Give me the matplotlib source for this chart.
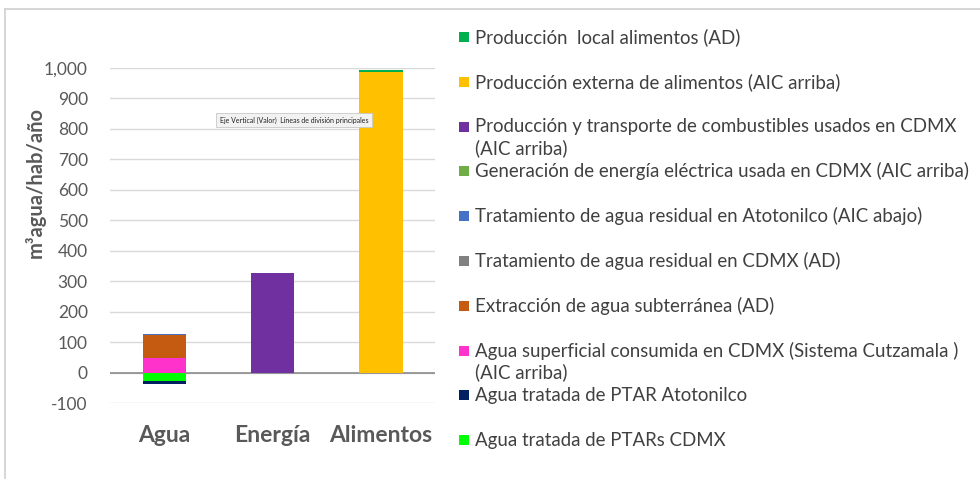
import numpy as np
import matplotlib
matplotlib.use('Agg')
import matplotlib.pyplot as plt
from matplotlib.lines import Line2D
from matplotlib.patches import Rectangle

plt.rcParams['font.family'] = ['Lato', 'DejaVu Sans']

categories = ['Agua', 'Energía', 'Alimentos']

# series in stacking order (bottom to top); legend shows them reversed
series_names = [
    'Agua tratada de PTARs CDMX',
    'Agua tratada de PTAR Atotonilco',
    'Agua superficial consumida en CDMX (Sistema Cutzamala )\n(AIC arriba)',
    'Extracción de agua subterránea (AD)',
    'Tratamiento de agua residual en CDMX (AD)',
    'Tratamiento de agua residual en Atotonilco (AIC abajo)',
    'Generación de energía eléctrica usada en CDMX (AIC arriba)',
    'Producción y transporte de combustibles usados en CDMX\n(AIC arriba)',
    'Producción externa de alimentos (AIC arriba)',
    'Producción  local alimentos (AD)',
]
ptars_cdmx = [-29, 0, 0]
ptar_atotonilco = [-10, 0, 0]
agua_superficial = [47, 0, 0]
extraccion = [75, 0, 0]
trat_cdmx = [0, 0, 0]
trat_atotonilco = [4, 0, 0]
generacion = [0, 0, 0]
combustibles = [0, 327, 0]
alim_externa = [0, 0, 988]
alim_local = [0, 0, 5]

series_vals = [ptars_cdmx, ptar_atotonilco, agua_superficial, extraccion, trat_cdmx,
               trat_atotonilco, generacion, combustibles, alim_externa, alim_local]
colors = ['#00FF00', '#002060', '#FF33CC', '#C55A11', '#808080',
          '#4472C4', '#70AD47', '#7030A0', '#FFC000', '#00B050']

fig = plt.figure(figsize=(9.8, 4.79), dpi=100)
W, H = 980, 479
ax = fig.add_axes([110 / W, (H - 403) / H, (435 - 110) / W, (403 - 68) / H])

x = np.arange(len(categories))
pos_bottom = np.zeros(len(categories))
neg_bottom = np.zeros(len(categories))
for vals, c in zip(series_vals, colors):
    v = np.array(vals, dtype=float)
    b = np.where(v >= 0, pos_bottom, neg_bottom)
    ax.bar(x, v, 0.4, bottom=b, color=c, zorder=3)
    pos_bottom += np.where(v > 0, v, 0)
    neg_bottom += np.where(v < 0, v, 0)

ax.set_xlim(-0.5, 2.5)
ax.set_ylim(-100, 1000)
ax.set_yticks(np.arange(-100, 1001, 100))
ax.set_yticklabels([f'{t:,}' for t in range(-100, 1001, 100)])
ax.grid(axis='y', color='#d9d9d9', lw=1, zorder=0)
ax.axhline(0, color='#8c8c8c', lw=1.2, zorder=2)
for s in ax.spines.values():
    s.set_visible(False)
ax.tick_params(axis='y', length=0, pad=16, labelsize=12.5, labelcolor='#595959')
ax.set_xticks(x)
ax.set_xticklabels(categories, fontsize=16.5, fontweight='bold', color='#595959')
ax.tick_params(axis='x', length=0, pad=16)

fig.text(35 / W, 1 - 183 / H, 'm³agua/hab/año', rotation=90, ha='center', va='center',
         fontsize=14.5, fontweight='bold', color='#595959')

# tooltip box
fig.text(294 / W, 1 - 120 / H, 'Eje Vertical (Valor)  Líneas de división principales',
         ha='center', va='center', fontsize=5, color='#222222',
         bbox=dict(boxstyle='square,pad=0.5', facecolor='#f2f2f2', edgecolor='#c8c8c8', lw=0.6))

# legend (drawn top to bottom)
y0, step = 37, 44.8
for i, (name, c) in enumerate(zip(series_names[::-1], colors[::-1])):
    yc = y0 + i * step
    fig.patches.append(Rectangle((459 / W, 1 - (yc + 5) / H), 10 / W, 10 / H,
                                 transform=fig.transFigure, facecolor=c, edgecolor='none'))
    for k, line in enumerate(name.split('\n')):
        fig.text(475 / W, 1 - (yc + k * 22) / H, line, ha='left', va='center',
                 fontsize=13.4, color='#404040')

# chart frame
fig.add_artist(Line2D([5 / W, 1], [1 - 9 / H, 1 - 9 / H], transform=fig.transFigure,
                      color='#d0d0d0', lw=1.2))
fig.add_artist(Line2D([5 / W, 5 / W], [0, 1 - 9 / H], transform=fig.transFigure,
                      color='#d0d0d0', lw=1.2))

fig.savefig('out.png', dpi=100)
